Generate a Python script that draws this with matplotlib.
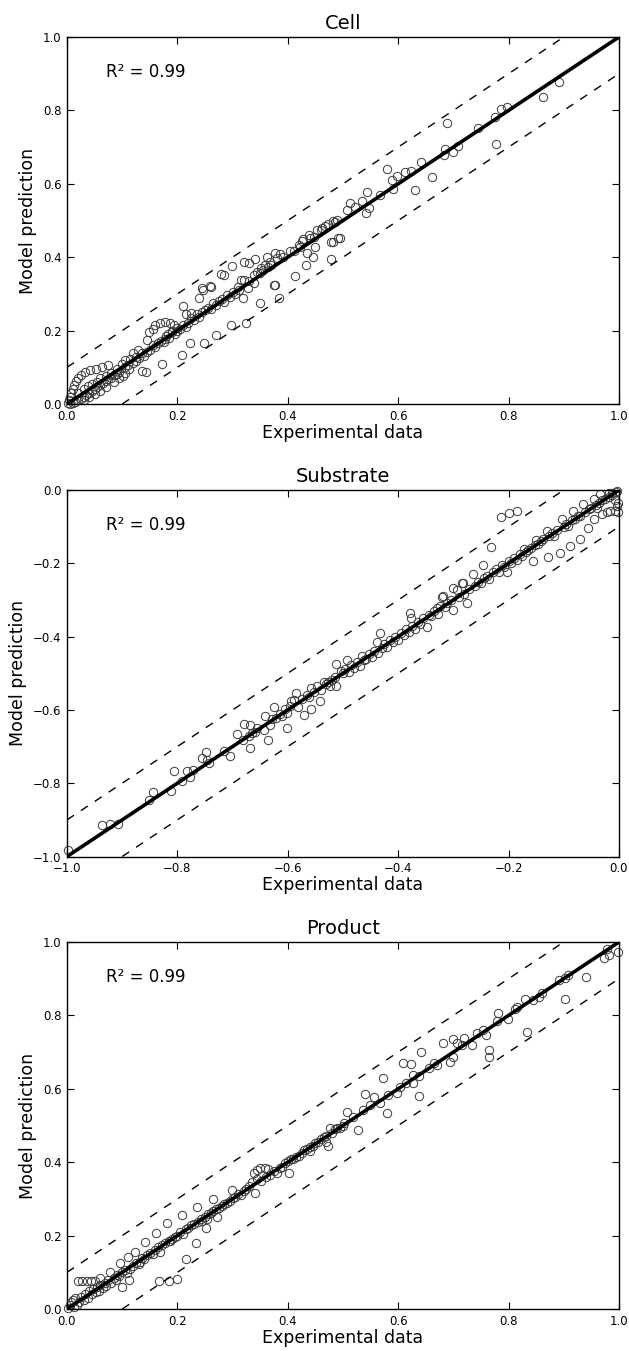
import numpy as np
import matplotlib
matplotlib.use("Agg")
import matplotlib.pyplot as plt

# (experimental, predicted) pairs for each state variable
cell_data = [
    (0.002, 0.002), (0.004, 0.010), (0.006, 0.020), (0.008, 0.030), (0.010, 0.040),
    (0.012, 0.052), (0.016, 0.062), (0.020, 0.072), (0.026, 0.080), (0.033, 0.087),
    (0.042, 0.092), (0.052, 0.096), (0.063, 0.101), (0.075, 0.106),
    (0.005, 0.000), (0.010, 0.003), (0.015, 0.006), (0.020, 0.010), (0.025, 0.014),
    (0.030, 0.020), (0.035, 0.025), (0.040, 0.030), (0.045, 0.036), (0.050, 0.042),
    (0.055, 0.047), (0.060, 0.052), (0.065, 0.057), (0.070, 0.062), (0.075, 0.067),
    (0.080, 0.072), (0.085, 0.078), (0.090, 0.083), (0.095, 0.088),
    (0.020, 0.030), (0.030, 0.042), (0.038, 0.050), (0.045, 0.055), (0.055, 0.060),
    (0.060, 0.070), (0.070, 0.076), (0.080, 0.085), (0.090, 0.095), (0.100, 0.108),
    (0.105, 0.120), (0.115, 0.122), (0.125, 0.128),
    (0.030, 0.010), (0.040, 0.018), (0.050, 0.028), (0.060, 0.035), (0.070, 0.045),
    (0.085, 0.060), (0.095, 0.072), (0.105, 0.085), (0.102, 0.075), (0.135, 0.091),
    (0.105, 0.100), (0.110, 0.105), (0.120, 0.112), (0.125, 0.118), (0.130, 0.125),
    (0.135, 0.140), (0.140, 0.130), (0.145, 0.142), (0.150, 0.148), (0.155, 0.160),
    (0.160, 0.155), (0.165, 0.165), (0.170, 0.172), (0.175, 0.168), (0.180, 0.185),
    (0.185, 0.180), (0.190, 0.195), (0.195, 0.190), (0.200, 0.200),
    (0.145, 0.175), (0.148, 0.195), (0.155, 0.205), (0.160, 0.215), (0.168, 0.222),
    (0.177, 0.224), (0.186, 0.222), (0.194, 0.215), (0.200, 0.208), (0.205, 0.205),
    (0.190, 0.200), (0.183, 0.190), (0.178, 0.178),
    (0.173, 0.108), (0.143, 0.086), (0.209, 0.134), (0.211, 0.267), (0.223, 0.167),
    (0.249, 0.167), (0.270, 0.188), (0.297, 0.215), (0.324, 0.222), (0.350, 0.275),
    (0.384, 0.288), (0.376, 0.325), (0.413, 0.349), (0.128, 0.148), (0.120, 0.140),
    (0.113, 0.095),
    (0.210, 0.215), (0.215, 0.210), (0.220, 0.222), (0.225, 0.235), (0.230, 0.228),
    (0.235, 0.245), (0.240, 0.238), (0.245, 0.250), (0.250, 0.255), (0.255, 0.262),
    (0.260, 0.258), (0.265, 0.274), (0.270, 0.270), (0.275, 0.281), (0.280, 0.285),
    (0.285, 0.279), (0.290, 0.298), (0.295, 0.292), (0.300, 0.305), (0.239, 0.288),
    (0.246, 0.311), (0.259, 0.322), (0.279, 0.354), (0.285, 0.352), (0.299, 0.375),
    (0.260, 0.320), (0.245, 0.315), (0.215, 0.245), (0.225, 0.248),
    (0.305, 0.300), (0.311, 0.311), (0.316, 0.338), (0.319, 0.290), (0.320, 0.338),
    (0.327, 0.315), (0.330, 0.335), (0.338, 0.329), (0.339, 0.352), (0.341, 0.394),
    (0.351, 0.370), (0.350, 0.356), (0.359, 0.379), (0.362, 0.401), (0.368, 0.388),
    (0.375, 0.324), (0.377, 0.412), (0.381, 0.398), (0.386, 0.408), (0.392, 0.401),
    (0.320, 0.388), (0.330, 0.385), (0.310, 0.320), (0.345, 0.360), (0.355, 0.365),
    (0.365, 0.372), (0.370, 0.380),
    (0.404, 0.418), (0.411, 0.418), (0.420, 0.434), (0.422, 0.429), (0.425, 0.445),
    (0.428, 0.449), (0.433, 0.379), (0.435, 0.411), (0.438, 0.461), (0.440, 0.451),
    (0.446, 0.401), (0.447, 0.455), (0.449, 0.427), (0.453, 0.475), (0.461, 0.474),
    (0.462, 0.479), (0.467, 0.485), (0.472, 0.491), (0.478, 0.442), (0.478, 0.394),
    (0.481, 0.441), (0.482, 0.499), (0.486, 0.497), (0.490, 0.502), (0.491, 0.451),
    (0.495, 0.452),
    (0.508, 0.529), (0.513, 0.547), (0.522, 0.538), (0.535, 0.553), (0.541, 0.520),
    (0.543, 0.578), (0.548, 0.535), (0.567, 0.569), (0.580, 0.640), (0.589, 0.610),
    (0.590, 0.587), (0.598, 0.622), (0.613, 0.633), (0.624, 0.635), (0.631, 0.583),
    (0.642, 0.660), (0.661, 0.619), (0.683, 0.679), (0.684, 0.695), (0.688, 0.767),
    (0.700, 0.688), (0.709, 0.704), (0.744, 0.753), (0.776, 0.782), (0.778, 0.708),
    (0.787, 0.804), (0.798, 0.810), (0.862, 0.837), (0.891, 0.878),
]

substrate_data = [
    (-0.998, -0.982), (-0.936, -0.914), (-0.922, -0.912), (-0.908, -0.911),
    (-0.851, -0.845), (-0.844, -0.825), (-0.812, -0.821), (-0.806, -0.768),
    (-0.792, -0.795), (-0.782, -0.766), (-0.777, -0.782), (-0.772, -0.765),
    (-0.755, -0.730), (-0.748, -0.716), (-0.747, -0.736), (-0.742, -0.745),
    (-0.715, -0.712), (-0.705, -0.725), (-0.692, -0.666), (-0.681, -0.682),
    (-0.679, -0.639), (-0.669, -0.641), (-0.671, -0.671), (-0.669, -0.705),
    (-0.665, -0.664), (-0.644, -0.655), (-0.641, -0.618), (-0.635, -0.682),
    (-0.633, -0.641), (-0.625, -0.593), (-0.622, -0.623), (-0.610, -0.618),
    (-0.602, -0.650), (-0.602, -0.609), (-0.596, -0.589), (-0.595, -0.575),
    (-0.589, -0.573), (-0.586, -0.555), (-0.582, -0.593), (-0.571, -0.615),
    (-0.562, -0.564), (-0.558, -0.598), (-0.558, -0.539), (-0.547, -0.534),
    (-0.542, -0.575), (-0.535, -0.523), (-0.528, -0.525), (-0.524, -0.536),
    (-0.515, -0.509), (-0.512, -0.534), (-0.512, -0.475), (-0.504, -0.493),
    (-0.493, -0.464), (-0.660, -0.660), (-0.655, -0.650), (-0.628, -0.625),
    (-0.615, -0.612), (-0.605, -0.598), (-0.575, -0.570), (-0.565, -0.560),
    (-0.552, -0.550), (-0.540, -0.545), (-0.530, -0.530), (-0.520, -0.518),
    (-0.500, -0.500), (-0.496, -0.488), (-0.490, -0.497), (-0.486, -0.478),
    (-0.480, -0.485), (-0.475, -0.470), (-0.470, -0.480), (-0.466, -0.453),
    (-0.462, -0.465), (-0.458, -0.460), (-0.452, -0.448), (-0.448, -0.455),
    (-0.443, -0.440), (-0.439, -0.414), (-0.436, -0.445), (-0.433, -0.389),
    (-0.430, -0.430), (-0.425, -0.420), (-0.420, -0.428), (-0.415, -0.408),
    (-0.410, -0.415), (-0.405, -0.400), (-0.400, -0.410), (-0.395, -0.390),
    (-0.390, -0.395), (-0.385, -0.380), (-0.379, -0.335), (-0.376, -0.350),
    (-0.380, -0.388), (-0.375, -0.372), (-0.370, -0.378), (-0.365, -0.360),
    (-0.360, -0.365), (-0.355, -0.348), (-0.348, -0.373), (-0.345, -0.342),
    (-0.340, -0.345), (-0.335, -0.330), (-0.330, -0.323), (-0.327, -0.338),
    (-0.324, -0.316), (-0.321, -0.291), (-0.318, -0.289), (-0.315, -0.320),
    (-0.312, -0.309), (-0.305, -0.300), (-0.300, -0.327), (-0.300, -0.267),
    (-0.294, -0.273), (-0.290, -0.292), (-0.284, -0.254), (-0.282, -0.253),
    (-0.280, -0.285), (-0.276, -0.309), (-0.272, -0.270), (-0.264, -0.230),
    (-0.260, -0.262), (-0.255, -0.250), (-0.250, -0.255),
    (-0.246, -0.205), (-0.245, -0.240), (-0.240, -0.235), (-0.235, -0.242),
    (-0.231, -0.155), (-0.228, -0.225), (-0.222, -0.215), (-0.218, -0.225),
    (-0.214, -0.073), (-0.212, -0.205), (-0.208, -0.210), (-0.202, -0.224),
    (-0.200, -0.062), (-0.200, -0.195), (-0.195, -0.200), (-0.190, -0.185),
    (-0.185, -0.192), (-0.184, -0.057), (-0.180, -0.175), (-0.175, -0.180),
    (-0.172, -0.162), (-0.168, -0.170), (-0.165, -0.165), (-0.160, -0.158),
    (-0.156, -0.194), (-0.152, -0.150), (-0.150, -0.136), (-0.147, -0.148),
    (-0.142, -0.140), (-0.138, -0.135), (-0.131, -0.112), (-0.128, -0.183),
    (-0.127, -0.125), (-0.122, -0.118), (-0.118, -0.125), (-0.112, -0.110),
    (-0.107, -0.172), (-0.104, -0.080), (-0.100, -0.100), (-0.096, -0.092),
    (-0.092, -0.098), (-0.088, -0.153), (-0.086, -0.082), (-0.083, -0.057),
    (-0.080, -0.078), (-0.075, -0.072), (-0.071, -0.133), (-0.070, -0.070),
    (-0.065, -0.039), (-0.062, -0.060), (-0.057, -0.105), (-0.055, -0.052),
    (-0.050, -0.048), (-0.046, -0.080), (-0.046, -0.025), (-0.042, -0.042),
    (-0.040, -0.050), (-0.036, -0.035), (-0.034, -0.012), (-0.030, -0.066),
    (-0.030, -0.028), (-0.025, -0.025), (-0.022, -0.059), (-0.019, -0.008),
    (-0.018, -0.020), (-0.016, -0.057), (-0.013, -0.009), (-0.012, -0.015),
    (-0.008, -0.057), (-0.007, -0.027), (-0.006, -0.006), (-0.003, -0.003),
    (-0.003, -0.045), (-0.001, -0.060), (-0.002, -0.035),
]

product_data = [
    (0.002, 0.003), (0.005, 0.010), (0.008, 0.018), (0.010, 0.025), (0.012, 0.005),
    (0.015, 0.030), (0.018, 0.012), (0.020, 0.077), (0.022, 0.020), (0.025, 0.032),
    (0.028, 0.077), (0.030, 0.025), (0.033, 0.040), (0.036, 0.077), (0.038, 0.030),
    (0.040, 0.048), (0.044, 0.077), (0.045, 0.040), (0.048, 0.055), (0.050, 0.077),
    (0.052, 0.045), (0.055, 0.060), (0.058, 0.050), (0.059, 0.084), (0.060, 0.065),
    (0.065, 0.058), (0.068, 0.072), (0.070, 0.062), (0.075, 0.078), (0.078, 0.102),
    (0.080, 0.070), (0.085, 0.085), (0.088, 0.080), (0.090, 0.092), (0.095, 0.090),
    (0.096, 0.125), (0.099, 0.061), (0.100, 0.100), (0.105, 0.105), (0.108, 0.098),
    (0.111, 0.143), (0.113, 0.079), (0.115, 0.110), (0.120, 0.118), (0.123, 0.156),
    (0.125, 0.125), (0.130, 0.122), (0.132, 0.129), (0.135, 0.138), (0.140, 0.135),
    (0.141, 0.182), (0.145, 0.148), (0.150, 0.152), (0.155, 0.150), (0.160, 0.162),
    (0.161, 0.208), (0.165, 0.168), (0.167, 0.075), (0.168, 0.156), (0.172, 0.175),
    (0.178, 0.180), (0.182, 0.234), (0.185, 0.075), (0.185, 0.185), (0.187, 0.184),
    (0.190, 0.192), (0.195, 0.195), (0.199, 0.081), (0.200, 0.200),
    (0.205, 0.210), (0.208, 0.255), (0.210, 0.205), (0.215, 0.218), (0.216, 0.135),
    (0.220, 0.222), (0.225, 0.228), (0.230, 0.232), (0.234, 0.181), (0.235, 0.279),
    (0.238, 0.238), (0.242, 0.245), (0.245, 0.240), (0.250, 0.252), (0.252, 0.220),
    (0.253, 0.245), (0.255, 0.258), (0.260, 0.262), (0.265, 0.299), (0.265, 0.268),
    (0.270, 0.272), (0.272, 0.250), (0.275, 0.275), (0.280, 0.282), (0.285, 0.285),
    (0.290, 0.288), (0.295, 0.295), (0.299, 0.325), (0.300, 0.302),
    (0.305, 0.305), (0.310, 0.312), (0.315, 0.310), (0.320, 0.322), (0.325, 0.328),
    (0.330, 0.335), (0.335, 0.345), (0.338, 0.370), (0.341, 0.315), (0.344, 0.379),
    (0.345, 0.355), (0.350, 0.384), (0.352, 0.350), (0.358, 0.384), (0.360, 0.360),
    (0.365, 0.381), (0.368, 0.365), (0.375, 0.375), (0.381, 0.370), (0.385, 0.385),
    (0.390, 0.388), (0.395, 0.398), (0.400, 0.402), (0.403, 0.370),
    (0.405, 0.408), (0.410, 0.410), (0.415, 0.415), (0.420, 0.418), (0.425, 0.425),
    (0.430, 0.432), (0.435, 0.435), (0.440, 0.442), (0.445, 0.445), (0.450, 0.452),
    (0.455, 0.455), (0.460, 0.462), (0.465, 0.468), (0.470, 0.472), (0.473, 0.445),
    (0.476, 0.493), (0.480, 0.480), (0.485, 0.490), (0.490, 0.492), (0.495, 0.492),
    (0.500, 0.500), (0.440, 0.430), (0.470, 0.455),
    (0.501, 0.506), (0.507, 0.538), (0.519, 0.524), (0.527, 0.488), (0.537, 0.543),
    (0.539, 0.585), (0.549, 0.556), (0.557, 0.577), (0.567, 0.560), (0.572, 0.630),
    (0.580, 0.535), (0.582, 0.583), (0.597, 0.588), (0.603, 0.606), (0.608, 0.669),
    (0.615, 0.615), (0.624, 0.667), (0.626, 0.615), (0.627, 0.637), (0.638, 0.636),
    (0.638, 0.581), (0.642, 0.701), (0.655, 0.656), (0.664, 0.669), (0.670, 0.665),
    (0.681, 0.724), (0.694, 0.674), (0.700, 0.737), (0.700, 0.687), (0.706, 0.726),
    (0.715, 0.719), (0.719, 0.739), (0.733, 0.719), (0.742, 0.752), (0.754, 0.761),
    (0.759, 0.747), (0.764, 0.687), (0.765, 0.707), (0.779, 0.785), (0.780, 0.806),
    (0.799, 0.789), (0.812, 0.818), (0.815, 0.824), (0.829, 0.845), (0.833, 0.755),
    (0.845, 0.842), (0.855, 0.849), (0.861, 0.860), (0.892, 0.896), (0.902, 0.901),
    (0.902, 0.846), (0.908, 0.910), (0.940, 0.905), (0.973, 0.957), (0.978, 0.980),
    (0.982, 0.964), (0.999, 0.974),
]

titles = ["Cell", "Substrate", "Product"]
axis_limits = [(0.0, 1.0), (-1.0, 0.0), (0.0, 1.0)]
tick_values = [
    [0.0, 0.2, 0.4, 0.6, 0.8, 1.0],
    [-1.0, -0.8, -0.6, -0.4, -0.2, 0.0],
    [0.0, 0.2, 0.4, 0.6, 0.8, 1.0],
]
r2_label = "R² = 0.99"
band = 0.1

plt.rcParams["font.family"] = ["DejaVu Sans"]

W, H = 629, 1351
fig = plt.figure(figsize=(W / 100, H / 100), dpi=100)
fig.patch.set_facecolor("white")

# axes frames in pixel coordinates: (left, top, right, bottom)
frames = [(67, 37, 619, 404), (67, 490, 619, 856.5), (67, 942, 619, 1309)]

datasets = [cell_data, substrate_data, product_data]

for data, title, (lo, hi), ticks, (l, t, r, b) in zip(
        datasets, titles, axis_limits, tick_values, frames):
    ax = fig.add_axes([l / W, 1 - b / H, (r - l) / W, (b - t) / H])
    exp_vals, pred_vals = np.array(data).T

    ax.plot(exp_vals, pred_vals, linestyle="none", marker="o", markersize=6.0,
            markerfacecolor="none", markeredgecolor="#3a3a3a",
            markeredgewidth=0.7, zorder=2, clip_on=False)

    ax.plot([lo, hi], [lo, hi], color="black", linewidth=2.6, zorder=3)
    ax.plot([lo, hi - band], [lo + band, hi], color="black", linewidth=1.0,
            dashes=(6, 6), zorder=3)
    ax.plot([lo + band, hi], [lo, hi - band], color="black", linewidth=1.0,
            dashes=(6, 6), zorder=3)

    ax.set_xlim(lo, hi)
    ax.set_ylim(lo, hi)
    ax.set_xticks(ticks)
    ax.set_yticks(ticks)
    ax.set_xticklabels([f"{v:.1f}".replace("-", "\u2212") for v in ticks])
    ax.set_yticklabels([f"{v:.1f}".replace("-", "\u2212") for v in ticks])
    ax.tick_params(direction="in", top=True, right=True, length=5,
                   width=0.8, labelsize=8.5, pad=4)
    for spine in ax.spines.values():
        spine.set_linewidth(1.0)

    ax.set_title(title, fontsize=14, pad=6)
    ax.set_xlabel("Experimental data", fontsize=12.5, labelpad=1)
    ax.set_ylabel("Model prediction", fontsize=12.5, labelpad=4)
    ax.text(0.07, 0.905, r2_label, transform=ax.transAxes, fontsize=12,
            ha="left", va="center")

fig.savefig("out.png", dpi=100, facecolor="white")
